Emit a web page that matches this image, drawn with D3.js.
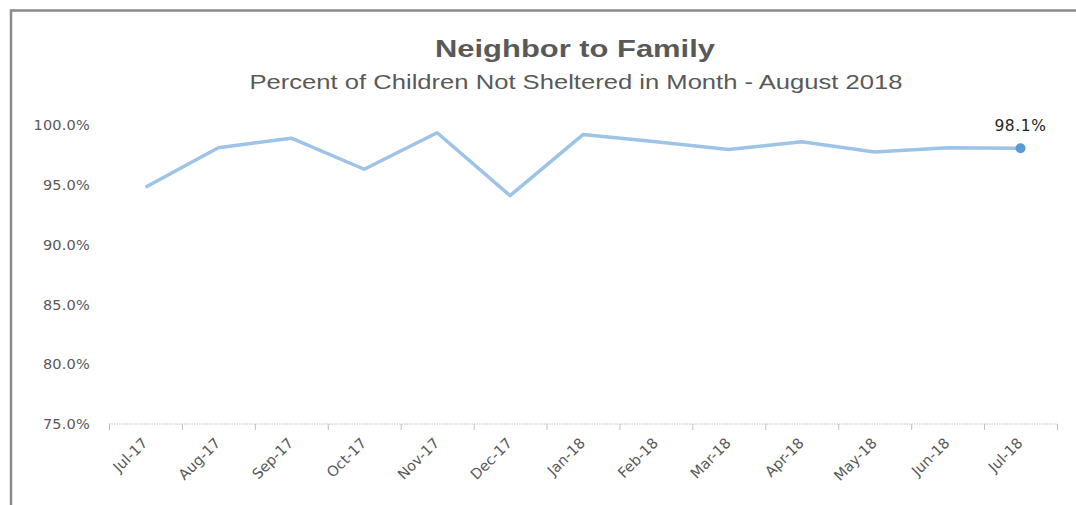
<!DOCTYPE html>
<html>
<head>
<meta charset="utf-8">
<script src="https://cdn.jsdelivr.net/npm/d3@7"></script>
<style>
  html, body { margin: 0; padding: 0; background: #fff; }
  svg { display: block; }
</style>
</head>
<body>
<div id="js_chart"></div>
<script>
const months = ["Jul-17", "Aug-17", "Sep-17", "Oct-17", "Nov-17", "Dec-17",
  "Jan-18", "Feb-18", "Mar-18", "Apr-18", "May-18", "Jun-18", "Jul-18"];
const pctNotSheltered = [94.8, 98.1, 98.9, 96.3, 99.35, 94.1,
  99.2, 98.6, 97.95, 98.6, 97.75, 98.1, 98.06];
const yTicks = [75, 80, 85, 90, 95, 100];

const title = "Neighbor to Family";
const subtitle = "Percent of Children Not Sheltered in Month - August 2018";

const width = 1076;
const height = 505;
const margin = { top: 125, right: 19, bottom: 81, left: 109 };

const svg = d3.select("#js_chart")
  .append("svg")
  .attr("width", width)
  .attr("height", height)
  .attr("viewBox", [0, 0, width, height]);

// outer chart frame (cut off at right and bottom like the screenshot)
svg.append("rect")
  .attr("x", 11)
  .attr("y", 10.5)
  .attr("width", width + 20)
  .attr("height", height + 20)
  .attr("fill", "none")
  .attr("stroke", "#8a8a8a")
  .attr("stroke-width", 2.5);

const x = d3.scaleBand()
  .domain(months)
  .range([margin.left, width - margin.right]);

const y = d3.scaleLinear()
  .domain([75, 100])
  .range([height - margin.bottom, margin.top]);

// titles
svg.append("text")
  .attr("x", 575)
  .attr("y", 57)
  .attr("text-anchor", "middle")
  .attr("font-family", "Liberation Sans, Arial, sans-serif")
  .attr("font-weight", "bold")
  .attr("font-size", 24)
  .attr("fill", "#595959")
  .attr("textLength", 280)
  .attr("lengthAdjust", "spacingAndGlyphs")
  .text(title);

svg.append("text")
  .attr("x", 576)
  .attr("y", 89)
  .attr("text-anchor", "middle")
  .attr("font-family", "Liberation Sans, Arial, sans-serif")
  .attr("font-size", 20)
  .attr("fill", "#595959")
  .attr("textLength", 653)
  .attr("lengthAdjust", "spacingAndGlyphs")
  .text(subtitle);

// y axis labels only (no line, no grid)
svg.append("g")
  .attr("transform", `translate(${margin.left},0)`)
  .call(d3.axisLeft(y).tickValues(yTicks).tickSize(0).tickPadding(19)
    .tickFormat(d => d.toFixed(1) + "%"))
  .call(g => g.select(".domain").remove())
  .call(g => g.selectAll("text")
    .attr("font-family", "DejaVu Sans, Verdana, sans-serif")
    .attr("font-size", 14.5)
    .attr("letter-spacing", 0.2)
    .attr("fill", "#595959"));

// x axis with ticks on band edges
const xAxis = svg.append("g")
  .attr("transform", `translate(0,${height - margin.bottom})`);

xAxis.append("line")
  .attr("x1", margin.left)
  .attr("x2", width - margin.right)
  .attr("stroke", "#bfbfbf")
  .attr("stroke-dasharray", "1.5,1")
  .attr("stroke-width", 1);

xAxis.selectAll(".tick_mark")
  .data(months.concat(["end"]))
  .join("line")
    .attr("class", "tick_mark")
    .attr("x1", (d, i) => margin.left + i * x.step() + 0.5)
    .attr("x2", (d, i) => margin.left + i * x.step() + 0.5)
    .attr("y1", 0)
    .attr("y2", 6)
    .attr("stroke", "#bfbfbf");

xAxis.selectAll(".tick_label")
  .data(months)
  .join("text")
    .attr("class", "tick_label")
    .attr("transform", d => `translate(${x(d) + x.bandwidth() / 2 + 3},${20}) rotate(-45)`)
    .attr("text-anchor", "end")
    .attr("font-family", "DejaVu Sans, Verdana, sans-serif")
    .attr("font-size", 14.5)
    .attr("fill", "#595959")
    .text(d => d);

// the series
const line = d3.line()
  .x((d, i) => x(months[i]) + x.bandwidth() / 2)
  .y(d => y(d));

svg.append("path")
  .datum(pctNotSheltered)
  .attr("fill", "none")
  .attr("stroke", "#9dc3e6")
  .attr("stroke-width", 3.5)
  .attr("stroke-linejoin", "round")
  .attr("d", line);

// last point marker + label
const lastIdx = pctNotSheltered.length - 1;
const lastX = x(months[lastIdx]) + x.bandwidth() / 2;
const lastY = y(pctNotSheltered[lastIdx]);

svg.append("circle")
  .attr("cx", lastX)
  .attr("cy", lastY)
  .attr("r", 5)
  .attr("fill", "#5b9bd5");

svg.append("text")
  .attr("x", lastX)
  .attr("y", lastY - 17)
  .attr("text-anchor", "middle")
  .attr("font-family", "DejaVu Sans, Verdana, sans-serif")
  .attr("font-size", 15.5)
  .attr("letter-spacing", 0.6)
  .attr("fill", "#262626")
  .text(pctNotSheltered[lastIdx].toFixed(1) + "%");
</script>
</body>
</html>
